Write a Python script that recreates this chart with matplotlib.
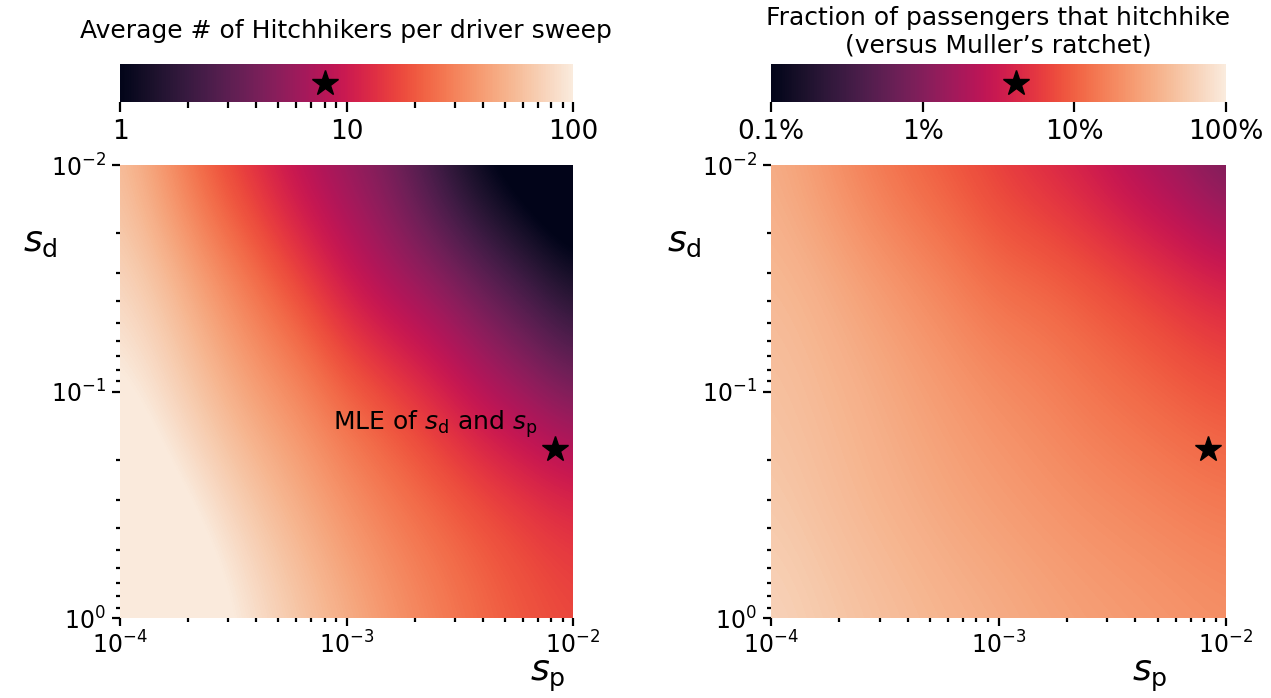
import numpy as np
import matplotlib
matplotlib.use('Agg')
import matplotlib.pyplot as plt
import seaborn as sns
from matplotlib.colors import LogNorm, Normalize
from matplotlib.cm import ScalarMappable
from matplotlib.ticker import FixedLocator, FixedFormatter

# log10 grid the two maps were read on
log_sp = [-4.0, -3.8, -3.6, -3.4, -3.2, -3.0, -2.8, -2.6, -2.4, -2.2, -2.0]
log_sd = [-2.0, -1.5, -1.0, -0.5, 0.0]

# average # of hitchhikers per driver sweep (rows: s_d = 0.01 -> 1)
hitchhikers = [
    [58, 34, 19, 12.6, 7.9, 5.5, 3.8, 1.9, 0.95, 0.6, 0.4],
    [78, 58, 38, 25, 16.6, 10, 6.6, 5.0, 3.3, 2.1, 1.26],
    [108, 80, 57, 41, 32, 22.5, 17.5, 12.5, 8.2, 6.0, 4.2],
    [175, 120, 88, 64, 48, 36, 28, 23, 19, 15.8, 13.5],
    [300, 200, 125, 88, 66, 50, 38, 30, 24, 20, 17.4],
]

# fraction of passengers that hitchhike
hitch_fraction = [
    [0.33, 0.234, 0.155, 0.11, 0.083, 0.059, 0.043, 0.031, 0.019, 0.0129, 0.0069],
    [0.41, 0.355, 0.27, 0.21, 0.16, 0.117, 0.106, 0.086, 0.068, 0.05, 0.039],
    [0.47, 0.41, 0.355, 0.29, 0.24, 0.20, 0.17, 0.138, 0.117, 0.099, 0.083],
    [0.54, 0.46, 0.39, 0.34, 0.29, 0.255, 0.225, 0.20, 0.18, 0.16, 0.145],
    [0.66, 0.57, 0.49, 0.43, 0.38, 0.34, 0.30, 0.27, 0.25, 0.23, 0.21],
]

# MLE point and the values marked on the colorbars
mle_sp = 8.3e-3
mle_sd = 0.18
star_hitchhikers = 8
star_fraction = 0.041

hh_ticks = [1, 10, 100]
hh_labels = ['1', '10', '100']
frac_ticks = [0.001, 0.01, 0.1, 1]
frac_labels = ['0.1%', '1%', '10%', '100%']

cmap = sns.color_palette('rocket', as_cmap=True)
plt.rcParams['font.family'] = ['DejaVu Sans']
plt.rcParams['mathtext.fontset'] = 'dejavusans'

W, H = 1271, 698
fig = plt.figure(figsize=(W / 100, H / 100), dpi=100)


def px_axes(x0, y0, x1, y1):
    return fig.add_axes([x0 / W, 1 - y1 / H, (x1 - x0) / W, (y1 - y0) / H])


def draw_map(ax, values, vmin, vmax):
    dx = (log_sp[1] - log_sp[0]) / 2
    dy = (log_sd[1] - log_sd[0]) / 2
    ext = (log_sp[0] - dx, log_sp[-1] + dx, log_sd[-1] + dy, log_sd[0] - dy)
    ax.imshow(np.log10(values), cmap=cmap,
              norm=Normalize(np.log10(vmin), np.log10(vmax)),
              extent=ext, origin='upper', aspect='auto',
              interpolation='bicubic', interpolation_stage='data')
    ax.set_xlim(log_sp[0], log_sp[-1])
    ax.set_ylim(log_sd[-1], log_sd[0])
    for s in ax.spines.values():
        s.set_visible(False)

    # log-style ticks on the exponent axes
    ax.xaxis.set_major_locator(FixedLocator([-4, -3, -2]))
    ax.xaxis.set_major_formatter(FixedFormatter(['$10^{-4}$', '$10^{-3}$', '$10^{-2}$']))
    ax.yaxis.set_major_locator(FixedLocator([-2, -1, 0]))
    ax.yaxis.set_major_formatter(FixedFormatter(['$10^{-2}$', '$10^{-1}$', '$10^{0}$']))
    ax.xaxis.set_minor_locator(FixedLocator([d + np.log10(k) for d in (-4, -3) for k in range(2, 10)]))
    ax.yaxis.set_minor_locator(FixedLocator([d + np.log10(k) for d in (-2, -1) for k in range(2, 10)]))
    ax.tick_params(which='major', length=6, width=1.6, labelsize=17, pad=4)
    ax.tick_params(which='minor', length=3, width=1.6)

    ax.plot(np.log10(mle_sp), np.log10(mle_sd), marker='*', ms=19, color='k', ls='none')


def draw_cbar(cax, norm, ticks, labels, star, minor):
    cb = fig.colorbar(ScalarMappable(norm=norm, cmap=cmap), cax=cax, orientation='horizontal')
    cb.outline.set_visible(False)
    cb.set_ticks(ticks)
    cb.set_ticklabels(labels)
    if minor:
        cb.minorticks_on()
    else:
        cb.minorticks_off()
    cax.tick_params(which='major', length=7, width=1.6, labelsize=19, pad=5)
    cax.tick_params(which='minor', length=4, width=1.6)
    cax.plot([star], [0.5], marker='*', ms=19, color='k', clip_on=False)
    return cb


# left panel
ax1 = px_axes(120, 165, 573, 618)
draw_map(ax1, hitchhikers, 1, 100)
ax1.text(-2.16, -0.83, 'MLE of $s_\\mathrm{d}$ and $s_\\mathrm{p}$', ha='right', va='baseline', fontsize=18)
ax1.set_ylabel('$s_\\mathrm{d}$', fontsize=26, rotation=0, ha='center', va='center')
ax1.yaxis.set_label_coords(-0.177, 0.83)
ax1.set_xlabel('$s_\\mathrm{p}$', fontsize=26, ha='center', va='center')
ax1.xaxis.set_label_coords(0.945, -0.128)

cax1 = px_axes(120, 64, 573, 102)
draw_cbar(cax1, LogNorm(1, 100), hh_ticks, hh_labels, star_hitchhikers, True)
fig.text(346 / W, 1 - 38 / H, 'Average # of Hitchhikers per driver sweep',
         ha='center', va='baseline', fontsize=18)

# right panel
ax2 = px_axes(771, 165, 1226, 618)
draw_map(ax2, hitch_fraction, 0.001, 1)
ax2.set_ylabel('$s_\\mathrm{d}$', fontsize=26, rotation=0, ha='center', va='center')
ax2.yaxis.set_label_coords(-0.19, 0.83)
ax2.set_xlabel('$s_\\mathrm{p}$', fontsize=26, ha='center', va='center')
ax2.xaxis.set_label_coords(0.833, -0.128)

cax2 = px_axes(771, 64, 1226, 102)
draw_cbar(cax2, LogNorm(0.001, 1), frac_ticks, frac_labels, star_fraction, False)
fig.text(998 / W, 1 - 52 / H, 'Fraction of passengers that hitchhike\n(versus Muller\u2019s ratchet)',
         ha='center', va='baseline', fontsize=18, linespacing=1.15)

fig.savefig('out.png', dpi=100)
